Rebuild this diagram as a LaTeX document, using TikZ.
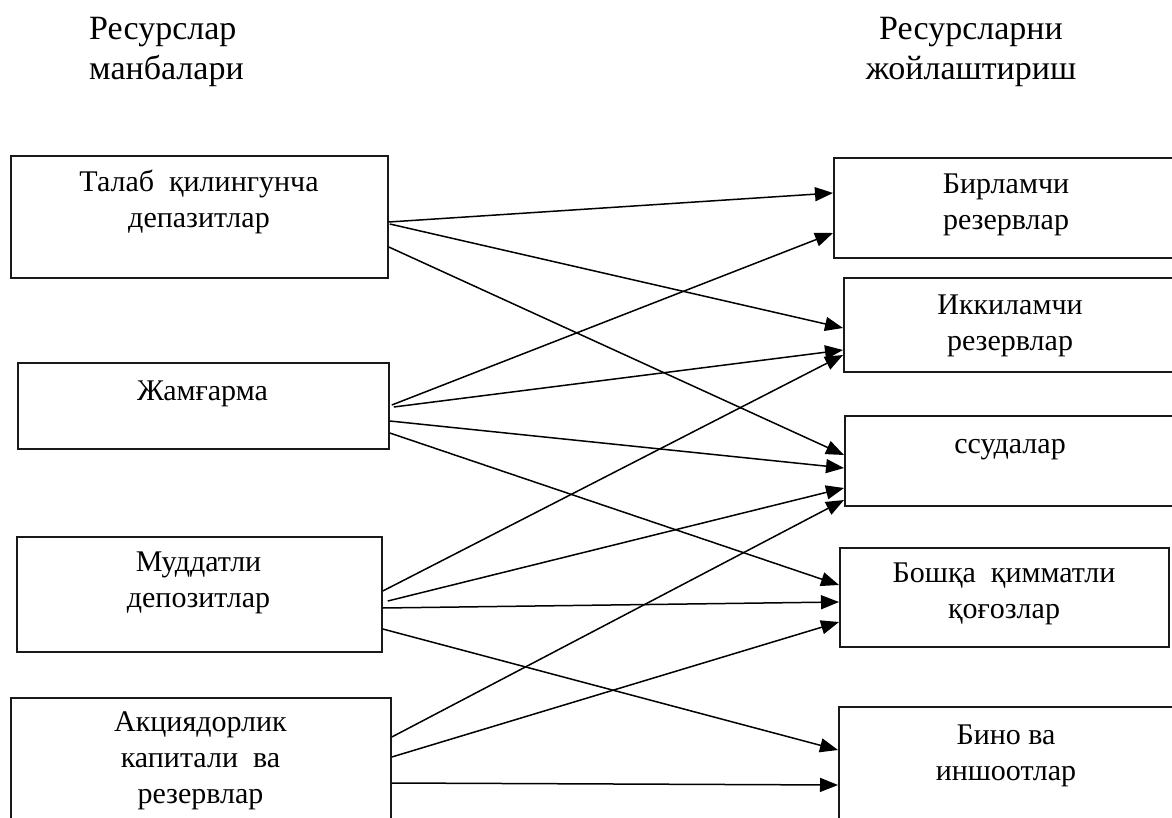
\documentclass[tikz,border=0pt]{standalone}
\usepackage{fontspec}
\setmainfont{Liberation Serif}
\usetikzlibrary{arrows.meta,calc}
\begin{document}
\begin{tikzpicture}[x=1pt,y=-1pt,
  box/.style={draw=black!90,line width=1.8pt,rectangle,inner sep=0pt,anchor=north west},
  txt/.style={font=\fontsize{30pt}{36pt}\selectfont,align=center,inner sep=0pt,anchor=base},
  head/.style={font=\fontsize{34pt}{40pt}\selectfont,inner sep=0pt,anchor=base},
  arr/.style={line width=1.5pt,-{Triangle[length=18pt,width=14pt]}}]
\useasboundingbox (0,0) rectangle (1172,818);
% headers (base = last line)
\node[head,align=left,anchor=base west] (hl) at (89,80) {Ресурслар\\манбалари};
\node[head,align=center] (hr) at (971,80) {Ресурсларни\\жойлаштириш};
% left boxes
\node[box,minimum width=377pt,minimum height=122pt] (a) at (10,155) {};
\node[box,minimum width=371pt,minimum height=86pt] (b) at (17,362) {};
\node[box,minimum width=365pt,minimum height=115pt] (c) at (16,536) {};
\node[box,minimum width=380pt,minimum height=140pt] (d) at (10,697) {};
% right boxes
\node[box,minimum width=350pt,minimum height=100pt] (e) at (833,157) {};
\node[box,minimum width=340pt,minimum height=94pt] (f) at (843,277) {};
\node[box,minimum width=340pt,minimum height=90pt] (g) at (844,415) {};
\node[box,minimum width=329pt,minimum height=99pt] (h) at (839,547) {};
\node[box,minimum width=340pt,minimum height=140pt] (i) at (838,706) {};
% texts (base = last line)
\node[txt] (at) at (199,228) {Талаб\ \ қилингунча\\депазитлар};
\node[txt] (bt) at (202.5,400) {Жамғарма};
\node[txt] (ct) at (198.5,607) {Муддатли\\депозитлар};
\node[txt] (dt) at (200.5,803) {Акциядорлик\\капитали\ \ ва\\резервлар};
\node[txt] (et) at (1006,230) {Бирламчи\\резервлар};
\node[txt] (ft) at (1010,350) {Иккиламчи\\резервлар};
\node[txt] (gt) at (1010,453) {ссудалар};
\node[txt] (ht) at (1004,618) {Бошқа\ \ қимматли\\қоғозлар};
\node[txt] (it) at (1006,780) {Бино ва\\иншоотлар};
% arrows
\draw[arr] ($(a.north east)+(0,67)$) -- ($(e.north west)+(0,36)$);
\draw[arr] ($(a.north east)+(1,69)$) -- ($(f.north west)+(0,51)$);
\draw[arr] ($(a.north east)+(0,92)$) -- ($(g.north west)+(0,40)$);
\draw[arr] ($(b.north east)+(2,43)$) -- ($(e.north west)+(0,76)$);
\draw[arr] ($(b.north east)+(4,45)$) -- ($(f.north west)+(0,73)$);
\draw[arr] ($(b.north east)+(0,59)$) -- ($(g.north west)+(0,53)$);
\draw[arr] ($(b.north east)+(0,71)$) -- ($(h.north west)+(0,38)$);
\draw[arr] ($(c.north east)+(0,55)$) -- ($(f.north west)+(0,78)$);
\draw[arr] ($(c.north east)+(5,65)$) -- ($(g.north west)+(0,73)$);
\draw[arr] ($(c.north east)+(0,72)$) -- ($(h.north west)+(0,55)$);
\draw[arr] ($(c.north east)+(0,93)$) -- ($(i.north west)+(0,44)$);
\draw[arr] ($(d.north east)+(0,40)$) -- ($(g.north west)+(0,85)$);
\draw[arr] ($(d.north east)+(0,60)$) -- ($(h.north west)+(0,75)$);
\draw[arr] ($(d.north east)+(0,86)$) -- ($(i.north west)+(0,79)$);
\end{tikzpicture}
\end{document}
